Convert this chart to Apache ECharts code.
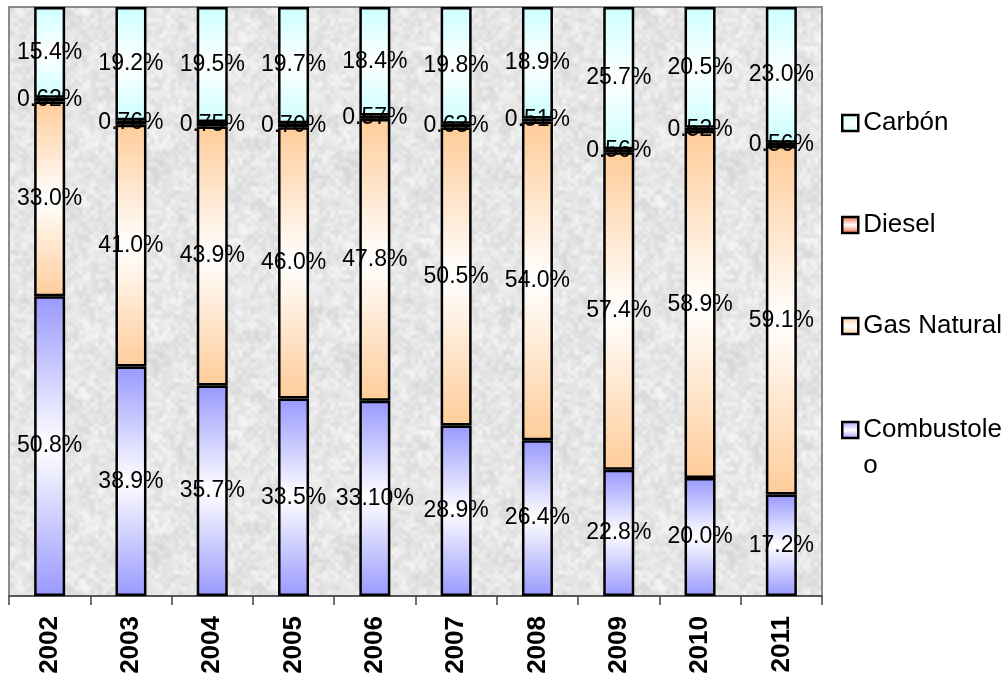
<!DOCTYPE html>
<html>
<head>
<meta charset="utf-8">
<title>Participación por combustible 2002-2011</title>
<script src="https://cdn.jsdelivr.net/npm/echarts@6/dist/echarts.min.js"></script>
<style>
  html, body { margin: 0; padding: 0; background: #ffffff; }
  #chart { width: 1008px; height: 677px; }
</style>
</head>
<body>
<div id="chart"></div>
<script>
// Years on the category axis
const years = ['2002', '2003', '2004', '2005', '2006', '2007', '2008', '2009', '2010', '2011'];

// Shares per fuel, as printed on each segment (percent)
const combustoleo = ['50.8', '38.9', '35.7', '33.5', '33.10', '28.9', '26.4', '22.8', '20.0', '17.2'];
const gasNatural  = ['33.0', '41.0', '43.9', '46.0', '47.8', '50.5', '54.0', '57.4', '58.9', '59.1'];
const diesel      = ['0.62', '0.76', '0.75', '0.70', '0.57', '0.63', '0.51', '0.56', '0.52', '0.56'];
const carbon      = ['15.4', '19.2', '19.5', '19.7', '18.4', '19.8', '18.9', '25.7', '20.5', '23.0'];

const FONT = "'Liberation Sans', Arial, Helvetica, sans-serif";

// Each column is drawn as a 100% stack: every value is divided by its column total
const fuels = [
  { name: 'Combustoleo', values: combustoleo, color: '#9999ff' },
  { name: 'Gas Natural', values: gasNatural,  color: '#ffcc99' },
  { name: 'Diesel',      values: diesel,      color: '#ee5a38' },
  { name: 'Carbón',      values: carbon,      color: '#ccffff' }
];
const totals = years.map((_, i) =>
  fuels.reduce((s, f) => s + Number(f.values[i]), 0));

// Colour at both ends of a segment, white through the middle
function band(color) {
  return new echarts.graphic.LinearGradient(0, 0, 0, 1, [
    { offset: 0, color: color },
    { offset: 0.5, color: '#ffffff' },
    { offset: 1, color: color }
  ]);
}

// Speckled grey stone fill for the plot area
function graniteTexture() {
  const size = 192;
  const c = document.createElement('canvas');
  c.width = c.height = size;
  const g = c.getContext('2d');
  const img = g.createImageData(size, size);
  const wrap = (v, n) => ((v % n) + n) % n;
  const hash = (x, y) => {
    const s = Math.sin(wrap(x, size) * 127.1 + wrap(y, size) * 311.7) * 43758.5453;
    return s - Math.floor(s);
  };
  const smooth = (x, y, cell) => {
    const gx = Math.floor(x / cell), gy = Math.floor(y / cell);
    const fx = x / cell - gx, fy = y / cell - gy;
    const n = size / cell;
    const h = (a, b) => hash(wrap(a, n) * 7 + cell, wrap(b, n) * 13 + cell);
    const sx = fx * fx * (3 - 2 * fx), sy = fy * fy * (3 - 2 * fy);
    const a = h(gx, gy), b = h(gx + 1, gy), c2 = h(gx, gy + 1), d = h(gx + 1, gy + 1);
    return (a * (1 - sx) + b * sx) * (1 - sy) + (c2 * (1 - sx) + d * sx) * sy;
  };
  for (let y = 0; y < size; y++) {
    for (let x = 0; x < size; x++) {
      let v = 230
        + 14 * (smooth(x, y, 12) - 0.5)
        + 22 * (smooth(x, y, 4) - 0.5)
        + 8 * (hash(x * 3 + 1, y * 7 + 2) - 0.5);
      v = Math.max(195, Math.min(250, v));
      const k = (y * size + x) * 4;
      img.data[k] = v; img.data[k + 1] = v; img.data[k + 2] = v; img.data[k + 3] = 255;
    }
  }
  g.putImageData(img, 0, 0);
  return c;
}

const chart = echarts.init(document.getElementById('chart'), null, { renderer: 'canvas' });

const series = fuels.map(f => ({
  name: f.name,
  type: 'bar',
  stack: 'total',
  barWidth: 31,
  data: f.values.map((v, i) => Number(v) / totals[i] * 100),
  itemStyle: { color: band(f.color), borderColor: '#000000', borderWidth: 2.5 },
  label: {
    show: true,
    position: 'inside',
    color: '#000000',
    fontFamily: FONT,
    fontSize: 23,
    formatter: p => f.values[p.dataIndex] + '%'
  },
  emphasis: { disabled: true }
}));

// One legend block per fuel so each entry sits at its own height
const legendBase = {
  orient: 'vertical',
  left: 841,
  padding: 0,
  itemWidth: 16,
  itemHeight: 16,
  icon: 'rect',
  selectedMode: false,
  itemStyle: { borderColor: '#000000', borderWidth: 2.5 },
  textStyle: { color: '#000000', fontFamily: FONT, fontSize: 26, lineHeight: 36 }
};
const legends = [
  Object.assign({}, legendBase, { data: ['Carbón'], top: 105 }),
  Object.assign({}, legendBase, { data: ['Diesel'], top: 207 }),
  Object.assign({}, legendBase, { data: ['Gas Natural'], top: 308 }),
  // leading blank line keeps "Combustole" level with its swatch
  Object.assign({}, legendBase, {
    data: ['Combustoleo'], top: 376,
    formatter: () => ' \nCombustole\no'
  })
];

chart.setOption({
  animation: false,
  backgroundColor: '#ffffff',
  textStyle: { fontFamily: FONT },
  grid: {
    left: 9, right: 186, top: 7, bottom: 81,
    show: true,
    backgroundColor: { image: graniteTexture(), repeat: 'repeat' },
    borderColor: '#8c8c8c',
    borderWidth: 2
  },
  legend: legends,
  xAxis: {
    type: 'category',
    data: years,
    axisLine: { show: true, lineStyle: { color: '#444444', width: 1.5 } },
    axisTick: { show: true, length: 9, lineStyle: { color: '#444444', width: 1.5 } },
    axisLabel: {
      rotate: 90,
      margin: 20,
      color: '#000000',
      fontFamily: FONT,
      fontWeight: 'bold',
      fontSize: 26
    }
  },
  yAxis: {
    type: 'value',
    min: 0,
    max: 100,
    show: false,
    splitLine: { show: false }
  },
  series: series
});
</script>
</body>
</html>
